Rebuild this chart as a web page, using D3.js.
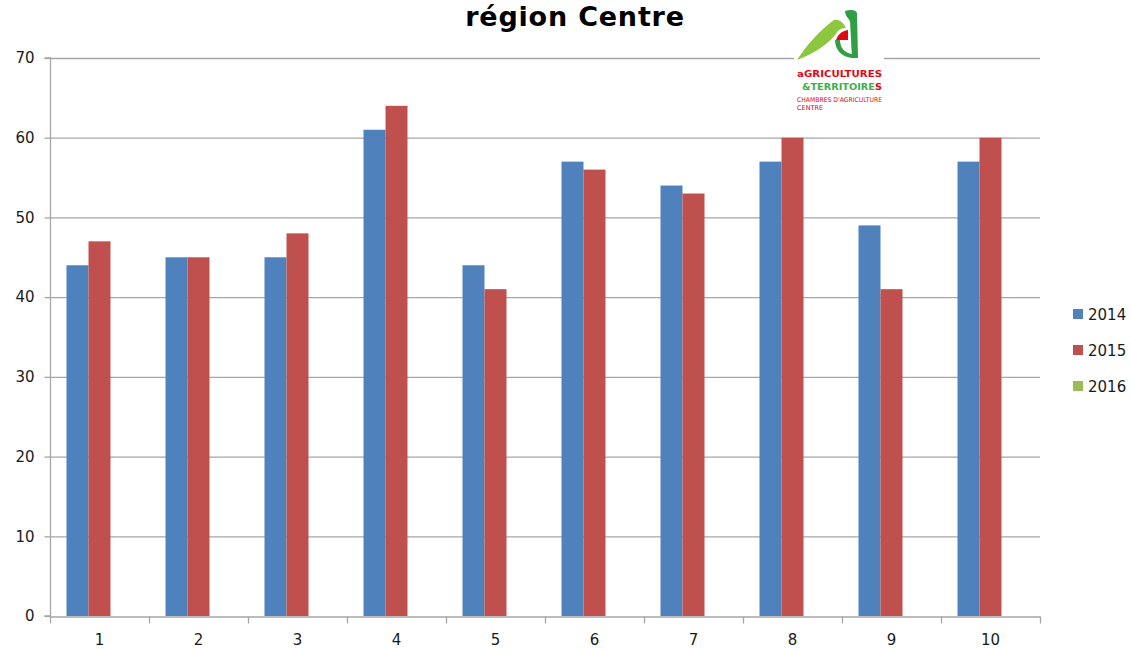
<!DOCTYPE html>
<html><head><meta charset="utf-8">
<script src="https://cdn.jsdelivr.net/npm/d3@7"></script>
<style>body{margin:0;background:#fff}svg{display:block}text{font-family:"DejaVu Sans",Verdana,sans-serif}</style>
</head><body><div id="c"></div>
<script>
const categories = ["1","2","3","4","5","6","7","8","9","10"];
const seriesNames = ["2014","2015","2016"];
const values2014 = [44,45,45,61,44,57,54,57,49,57];
const values2015 = [47,45,48,64,41,56,53,60,41,60];
const values2016 = [null,null,null,null,null,null,null,null,null,null];
const yTicks = [0,10,20,30,40,50,60,70];
const colors = ["#4f81bd","#c0504d","#9bbb59"];
const title = "région Centre";

const W=1131,H=649;
const svg=d3.select("#c").append("svg").attr("width",W).attr("height",H);
const m={l:50,r:91,t:58,b:33};
const x=d3.scaleBand().domain(categories).range([m.l,W-m.r]).paddingInner(0).paddingOuter(0);
const y=d3.scaleLinear().domain([0,70]).range([H-m.b,m.t]);
const groupPad=x.bandwidth()/6;
const xs=d3.scaleBand().domain(seriesNames).range([groupPad,x.bandwidth()-groupPad]);

// gridlines
svg.append("g").selectAll("line").data(yTicks.filter(d=>d>0)).join("line")
 .attr("x1",m.l).attr("x2",W-m.r).attr("y1",d=>y(d)+0.5).attr("y2",d=>y(d)+0.5)
 .attr("stroke","#a6a6a6").attr("stroke-width",1.3);

const data=[values2014,values2015,values2016];
seriesNames.forEach((s,i)=>{
  svg.append("g").selectAll("rect").data(categories.map((c,j)=>({c,v:data[i][j]})).filter(d=>d.v!=null)).join("rect")
   .attr("x",d=>x(d.c)+xs(s)).attr("width",xs.bandwidth())
   .attr("y",d=>y(d.v)).attr("height",d=>y(0)-y(d.v)).attr("fill",colors[i]);
});

// y axis
const ya=svg.append("g").attr("transform",`translate(${m.l+0.5},0)`)
 .call(d3.axisLeft(y).tickValues(yTicks).tickSize(6).tickPadding(10).tickFormat(d3.format("d")));
ya.select(".domain").attr("stroke","#a6a6a6").attr("stroke-width",1.3).attr("d",`M-6,${y(0)}H0V${y(70)}H-6`);
ya.selectAll(".tick line").attr("stroke","#a6a6a6").attr("stroke-width",1.3);
ya.selectAll("text").attr("font-size",15).attr("fill","#1a1a1a");

// x axis
const xa=svg.append("g").attr("transform",`translate(0,${y(0)+0.5})`)
 .call(d3.axisBottom(x).tickSize(0).tickPadding(18));
xa.select(".domain").attr("stroke","#a6a6a6").attr("stroke-width",1.3);
xa.selectAll("text").attr("font-size",15).attr("fill","#1a1a1a");
const bounds=categories.map(c=>x(c)).concat([x(categories[categories.length-1])+x.bandwidth()]);
xa.append("g").selectAll("line").data(bounds).join("line")
 .attr("x1",d=>d+0.5).attr("x2",d=>d+0.5).attr("y1",0).attr("y2",7)
 .attr("stroke","#a6a6a6").attr("stroke-width",1.3);

// title
svg.append("text").attr("x",575).attr("y",26).attr("text-anchor","middle")
 .attr("font-size",27).attr("font-weight","bold").attr("letter-spacing",0.8).attr("fill","#000").text(title);

// legend
const lg=svg.append("g");
seriesNames.forEach((s,i)=>{
  const yy=315+i*36;
  lg.append("rect").attr("x",1073).attr("y",yy-6).attr("width",10).attr("height",10).attr("fill",colors[i]);
  lg.append("text").attr("x",1088).attr("y",yy+5).attr("font-size",15).attr("fill","#1a1a1a").text(s);
});

// logo
const lo=svg.append("g");
const nf="'Liberation Sans Narrow','DejaVu Sans Condensed',sans-serif";
lo.append("rect").attr("x",794).attr("y",8).attr("width",90).attr("height",104).attr("fill","#fff");
// light green swoosh
lo.append("path").attr("d","M797,60 C806,46 820,30 834,20 C839,19 843,22 846,28 C841,28 838,30 836,34 C828,44 814,54 797,60 Z").attr("fill","#8dc63f");
// dark green "a" arc
lo.append("path").attr("d","M845,11 C851,9 856,10 857,13 L858,58 L852,58 L850,21 C848,18 845,15 845,11 Z").attr("fill","#2f9e44");
lo.append("path").attr("d","M835,40 C835,50 842,57 852,58 L852,54 C845,53 840,48 840,40 Z").attr("fill","#2f9e44");
// red triangle
lo.append("path").attr("d","M836,40 C838,34 842,31 848,30 L848,40 Z").attr("fill","#e30613");
lo.append("text").attr("x",797).attr("y",77).attr("font-family",nf).attr("font-size",9.5).attr("font-weight","bold").attr("textLength",85).attr("lengthAdjust","spacingAndGlyphs")
 .html('<tspan fill="#e30613">aGRICULTURES</tspan>');
lo.append("text").attr("x",802).attr("y",90).attr("font-family",nf).attr("font-size",9.5).attr("font-weight","bold").attr("textLength",80).attr("lengthAdjust","spacingAndGlyphs")
 .html('<tspan fill="#3fae49">&amp;TERRITOIRE</tspan><tspan fill="#e30613">S</tspan>');
lo.append("text").attr("x",797).attr("y",102).attr("font-family",nf).attr("font-size",6.5).attr("textLength",85).attr("lengthAdjust","spacingAndGlyphs").attr("fill","#e30613").text("CHAMBRES D'AGRICULTURE");
lo.append("text").attr("x",797).attr("y",110).attr("font-family",nf).attr("font-size",6.5).attr("fill","#e30613").text("CENTRE");
</script></body></html>
